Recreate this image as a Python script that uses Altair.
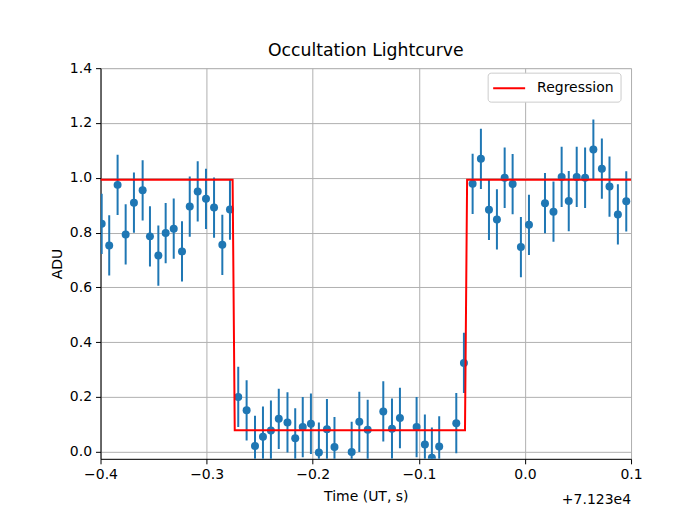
import altair as alt
import pandas as pd

# ---- data ----
TITLE = "Occultation Lightcurve"
X_TITLE = "Time (UT, s)"
Y_TITLE = "ADU"
OFFSET_LABEL = "+7.123e4"
SERIES = "Regression"

x_ticks = [-0.4, -0.3, -0.2, -0.1, 0.0, 0.1]
y_ticks = [0.0, 0.2, 0.4, 0.6, 0.8, 1.0, 1.2, 1.4]

# time relative to 7.123e4 s
t_rel = [
    -0.3989, -0.3918, -0.3839, -0.3763, -0.3685, -0.3603, -0.3534, -0.3455,
    -0.3386, -0.3310, -0.3232, -0.3159, -0.3084, -0.3006, -0.2930, -0.2852,
    -0.2780,
    -0.2702, -0.2623, -0.2544, -0.2469, -0.2394, -0.2320, -0.2238, -0.2165,
    -0.2094, -0.2017, -0.1942, -0.1866, -0.1795, -0.1633, -0.1561, -0.1482,
    -0.1335, -0.1253, -0.1178, -0.1021, -0.0943, -0.0877, -0.0808, -0.0647,
    -0.0575,
    -0.0493, -0.0415, -0.0339, -0.0264, -0.0191, -0.0116, -0.0038, 0.0038,
    0.0189, 0.0269, 0.0346, 0.0413, 0.0488, 0.0567, 0.0645, 0.0725,
    0.0797, 0.0876, 0.0955,
]
adu = [
    0.832, 0.753, 0.974, 0.793, 0.909, 0.954, 0.786, 0.716,
    0.798, 0.814, 0.731, 0.895, 0.950, 0.923, 0.891, 0.755,
    0.884,
    0.200, 0.151, 0.021, 0.055, 0.077, 0.120, 0.107, 0.049,
    0.090, 0.102, -0.003, 0.082, 0.017, -0.001, 0.109, 0.080,
    0.147, 0.084, 0.123, 0.090, 0.026, -0.022, 0.019, 0.104,
    0.324,
    0.978, 1.069, 0.883, 0.848, 1.000, 0.977, 0.747, 0.828,
    0.907, 0.876, 1.003, 0.915, 1.003, 1.000, 1.103, 1.033,
    0.968, 0.866, 0.914,
]
ERR = 0.11

reg_t = [-0.4, -0.2755, -0.2735, -0.0565, -0.0545, 0.1]
reg_v = [0.993, 0.993, 0.078, 0.078, 0.993, 0.993]

# ---- build chart ----
pts = pd.DataFrame({"t": t_rel, "adu": adu, "err": [ERR] * len(t_rel)})
reg = pd.DataFrame({"t": reg_t, "adu": reg_v, "series": [SERIES] * len(reg_t)})
off = pd.DataFrame({"label": [OFFSET_LABEL]})

W, H = 531, 391
FONT = "DejaVu Sans"
FS = 14
BLUE = "#1f77b4"

xscale = alt.Scale(domain=[-0.4, 0.1], nice=False, zero=False)
yscale = alt.Scale(domain=[-0.026, 1.4], nice=False, zero=False)

common_axis = dict(
    grid=True, gridColor="#b0b0b0", gridWidth=1, gridOpacity=1,
    domainColor="black", domainWidth=1, tickColor="black", tickSize=5, tickWidth=1,
    labelFont=FONT, labelFontSize=FS, labelColor="black", labelPadding=4,
    titleFont=FONT, titleFontSize=FS, titleColor="black", titleFontWeight="normal",
)
xaxis = alt.Axis(values=x_ticks, format=".1f", title=X_TITLE,
                 titlePadding=8, labelFlush=False, **common_axis)
yaxis = alt.Axis(values=y_ticks, format=".1f", title=Y_TITLE,
                 titlePadding=5, **common_axis)

X = alt.X("t:Q", scale=xscale, axis=xaxis)
Y = alt.Y("adu:Q", scale=yscale, axis=yaxis)

bars = alt.Chart(pts).transform_calculate(
    lo="datum.adu - datum.err", hi="datum.adu + datum.err"
).mark_rule(color=BLUE, strokeWidth=2, clip=True).encode(
    x=X, y=alt.Y("lo:Q", scale=yscale, axis=yaxis), y2="hi:Q"
)

dots = alt.Chart(pts).mark_circle(color=BLUE, size=64, opacity=1, clip=True).encode(x=X, y=Y)

line = alt.Chart(reg).mark_line(strokeWidth=2, clip=True, interpolate="linear").encode(
    x=X, y=Y,
    color=alt.Color("series:N", scale=alt.Scale(domain=[SERIES], range=["red"]),
                    legend=alt.Legend(
                        title=None, orient="none", legendX=387.5, legendY=4.5,
                        symbolType="M-2,0H2", symbolSize=256, symbolStrokeWidth=2,
                        symbolOffset=6,
                        labelFont=FONT, labelFontSize=FS, labelColor="black",
                        labelOffset=19, padding=6.5, fillColor="white",
                        strokeColor="#cccccc", cornerRadius=3,
                    )),
)

offset_text = alt.Chart(off).mark_text(
    align="right", baseline="middle", font=FONT, fontSize=FS, color="black"
).encode(x=alt.value(W), y=alt.value(H + 41), text="label:N")

chart = alt.layer(bars, dots, line, offset_text).properties(
    width=W, height=H,
    title=alt.TitleParams(TITLE, font=FONT, fontSize=17.3, fontWeight="normal",
                          color="black", anchor="middle", offset=1.5),
    autosize=alt.AutoSizeParams(type="none"),
    padding={"left": 92.6, "top": 60, "right": 45, "bottom": 49},
).configure_view(stroke="black", strokeWidth=1).configure(background="white")

chart.save("out.html", embed_options={"renderer": "svg", "actions": False})
